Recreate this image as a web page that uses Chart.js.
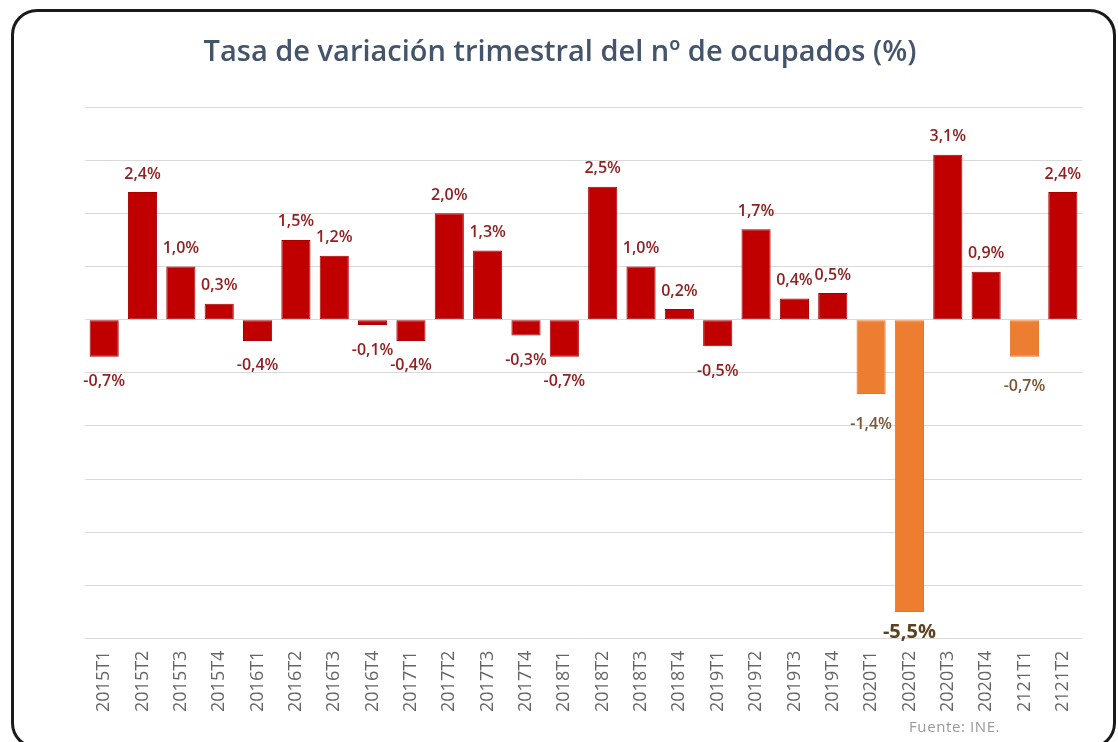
<!DOCTYPE html>
<html lang="es">
<head>
<meta charset="utf-8">
<title>Tasa de variación trimestral del nº de ocupados</title>
<script src="https://cdn.jsdelivr.net/npm/chart.js@4/dist/chart.umd.min.js"></script>
<style>
	html, body { margin: 0; padding: 0; background: #fff; }
	#wrap { position: relative; width: 1118px; height: 742px; overflow: hidden; }
	#titulo { position: absolute; left: 0; top: 30px; width: 1120px; text-align: center; line-height: 36px;
		font: 600 29px 'Open Sans', sans-serif; color: #44546a; }
	#marco { position: absolute; left: 11px; top: 9px; width: 1105px; height: 740px; box-sizing: border-box;
		border: 3px solid #1a1a1a; border-radius: 26px; pointer-events: none; }
	#fuente { position: absolute; left: 909px; top: 716px; font: 15px 'Open Sans', sans-serif; color: #999;
		letter-spacing: 0.6px; }
</style>
</head>
<body>
<div id="wrap">
	<canvas id="grafico" width="1118" height="742"></canvas>
	<div id="titulo">Tasa de variación trimestral del nº de ocupados (%)</div>
	<div id="marco"></div>
	<div id="fuente">Fuente: INE.</div>
</div>
<script>
// Trimestres y tasa de variación trimestral (%)
const trimestres = ['2015T1', '2015T2', '2015T3', '2015T4', '2016T1', '2016T2', '2016T3', '2016T4',
	'2017T1', '2017T2', '2017T3', '2017T4', '2018T1', '2018T2', '2018T3', '2018T4',
	'2019T1', '2019T2', '2019T3', '2019T4', '2020T1', '2020T2', '2020T3', '2020T4', '2121T1', '2121T2'];
const variacion = [-0.7, 2.4, 1.0, 0.3, -0.4, 1.5, 1.2, -0.1, -0.4, 2.0, 1.3, -0.3, -0.7,
	2.5, 1.0, 0.2, -0.5, 1.7, 0.4, 0.5, -1.4, -5.5, 3.1, 0.9, -0.7, 2.4];
// trimestres resaltados en naranja
const destacados = ['2020T1', '2020T2', '2121T1'];

const ROJO = '#c00000', NARANJA = '#ed7d31';
const esDestacado = i => destacados.includes(trimestres[i]);
const minimo = Math.min(...variacion);

// etiquetas de valor encima/debajo de cada barra
const etiquetas = {
	id: 'etiquetas',
	afterDatasetsDraw(chart) {
		const ctx = chart.ctx;
		const meta = chart.getDatasetMeta(0);
		ctx.save();
		ctx.textAlign = 'center';
		meta.data.forEach((bar, i) => {
			const v = variacion[i];
			const txt = v.toFixed(1).replace('.', ',') + '%';
			let gap = 17;
			if (v === minimo) {
				ctx.font = 'bold 20px "Open Sans", sans-serif';
				ctx.fillStyle = '#5e4220';
				gap = 10;
			} else {
				ctx.font = '600 16px "Open Sans", sans-serif';
				ctx.fillStyle = esDestacado(i) ? '#7a5532' : '#922020';
				if (esDestacado(i)) gap = 22;
			}
			if (v >= 0) {
				ctx.textBaseline = 'bottom';
				ctx.fillText(txt, bar.x, bar.y - 10);
			} else {
				ctx.textBaseline = 'top';
				ctx.fillText(txt, bar.x, bar.y + gap);
			}
		});
		ctx.restore();
	}
};

new Chart(document.getElementById('grafico'), {
	type: 'bar',
	data: {
		labels: trimestres,
		datasets: [{
			data: variacion,
			backgroundColor: variacion.map((v, i) => esDestacado(i) ? NARANJA : ROJO),
			borderColor: variacion.map((v, i) => esDestacado(i) ? '#e67528' : '#a80000'),
			borderWidth: 1,
			borderSkipped: false,
			barPercentage: 0.76,
			categoryPercentage: 1
		}]
	},
	options: {
		responsive: false,
		animation: false,
		events: [],
		layout: { padding: { left: 85, right: 36, top: 107, bottom: 18 } },
		plugins: {
			legend: { display: false },
			tooltip: { enabled: false },
			title: { display: false }
		},
		scales: {
			x: {
				grid: { display: false, drawTicks: false },
				border: { display: false },
				ticks: {
					color: '#666',
					font: { family: 'Open Sans', size: 18 },
					minRotation: 90, maxRotation: 90,
					padding: 12,
					autoSkip: false
				}
			},
			y: {
				min: -6, max: 4,
				grid: { color: '#d9d9d9', drawTicks: false },
				border: { display: false },
				ticks: { display: false, stepSize: 1 }
			}
		}
	},
	plugins: [etiquetas]
});
</script>
</body>
</html>
